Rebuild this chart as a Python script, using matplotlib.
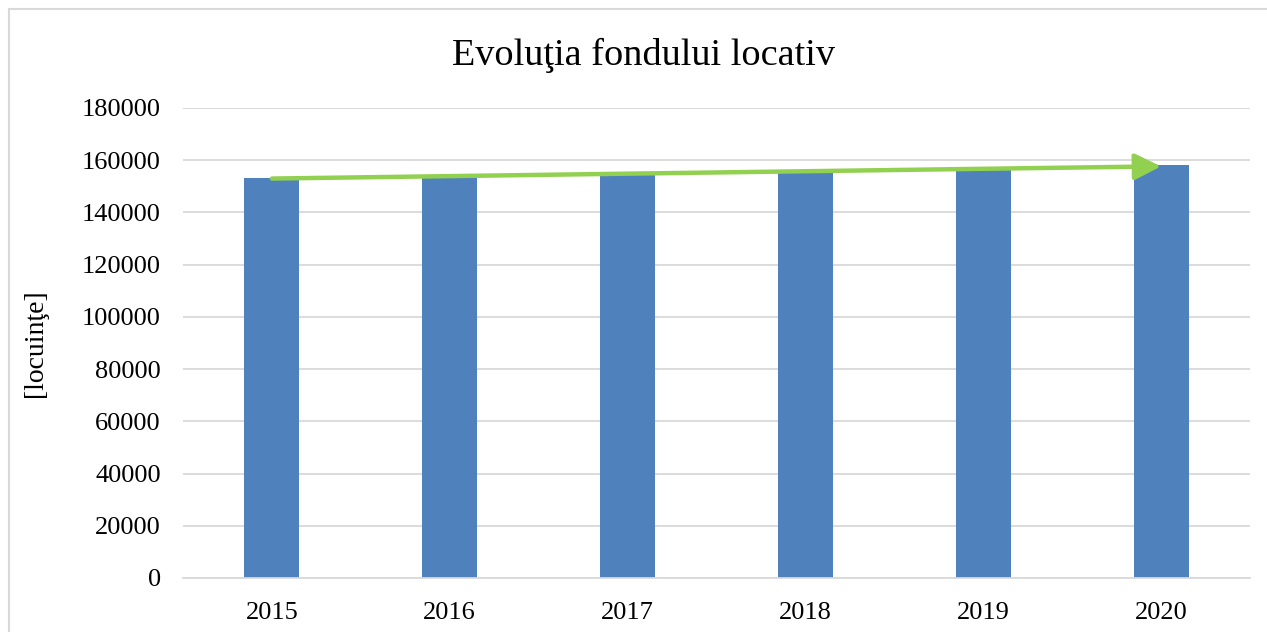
import numpy as np
import matplotlib.pyplot as plt
from matplotlib.lines import Line2D

years = ['2015', '2016', '2017', '2018', '2019', '2020']
dwellings = [153200, 154000, 154700, 155500, 156300, 158200]
yticks = [0, 20000, 40000, 60000, 80000, 100000, 120000, 140000, 160000, 180000]

plt.rcParams['font.family'] = ['Liberation Serif', 'DejaVu Serif']

fig = plt.figure(figsize=(12.67, 6.32), dpi=100)
ax = fig.add_axes([183/1267, 54/632, (1250-183)/1267, (578-108)/632])

x = np.arange(len(years))
ax.bar(x, dwellings, width=0.31, color='#4F81BD', zorder=2)

# linear trend with arrow head
k, b = np.polyfit(x, dwellings, 1)
ax.annotate('', xy=(x[-1], k*x[-1]+b), xytext=(x[0], k*x[0]+b),
            arrowprops=dict(arrowstyle='-|>,head_length=1.6,head_width=0.8',
                            color='#92D050', lw=3.2, shrinkA=0, shrinkB=0),
            zorder=3)

ax.set_xlim(-0.5, len(years)-0.5)
ax.set_ylim(0, 180000)
ax.set_yticks(yticks)
ax.set_xticks(x)
ax.set_xticklabels(years)
ax.grid(axis='y', color='#D9D9D9', lw=1.3, zorder=0)
for s in ['top', 'right', 'left']:
    ax.spines[s].set_visible(False)
ax.spines['bottom'].set_color('#D9D9D9')
ax.spines['bottom'].set_linewidth(1.3)
ax.tick_params(length=0, labelsize=19, colors='black')
ax.tick_params(axis='y', pad=16)
ax.tick_params(axis='x', pad=17)
ax.set_ylabel('[locuinţe]', fontsize=20, labelpad=24)
fig.text(644/1267, 1-55/632, 'Evoluţia fondului locativ', ha='center', va='center', fontsize=27.5)

# chart border
fig.add_artist(Line2D([9/1267, 9/1267], [0, 1-9/632], color='#D9D9D9', lw=1.5))
fig.add_artist(Line2D([9/1267, 1], [1-9/632, 1-9/632], color='#D9D9D9', lw=1.5))

fig.savefig('out.png', dpi=100)
